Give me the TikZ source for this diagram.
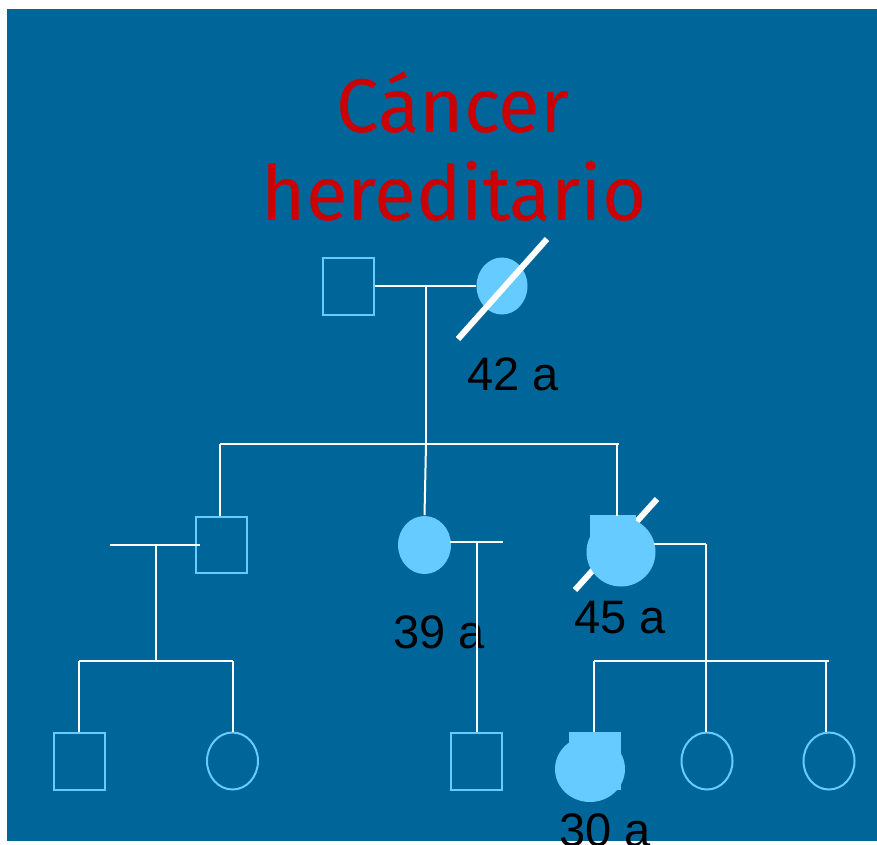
\documentclass[tikz,border=0pt]{standalone}
\usepackage{fontspec}
\setmainfont{Liberation Sans}
\newfontfamily\titlefont{Fira Sans}
\usetikzlibrary{shapes.geometric}
\definecolor{bgblue}{RGB}{0,102,153}
\definecolor{lblue}{RGB}{102,204,255}
\definecolor{titlered}{RGB}{204,0,0}
\begin{document}
\begin{tikzpicture}[x=1pt,y=-1pt,
  male/.style={draw=lblue,line width=2pt,rectangle,minimum width=51pt,minimum height=57pt,inner sep=0pt},
  female/.style={draw=lblue,line width=2pt,ellipse,minimum width=51pt,minimum height=57pt,inner sep=0pt},
  affected/.style={fill=lblue,draw=none},
  link/.style={draw=white,line width=2pt},
  deceased/.style={draw=white,line width=6pt},
  age/.style={font=\fontsize{47}{50}\selectfont,text=black,anchor=base,inner sep=0pt},
  ttl/.style={font=\titlefont\fontsize{76}{88}\selectfont,text=titlered,anchor=base,inner sep=0pt}]
\useasboundingbox (0,0) rectangle (877,844);
\fill[bgblue] (7,9) rectangle (877,841);

% title
\node[ttl] (t1) at (453,132) {Cáncer};
\node[ttl] (t2) at (454,220) {hereditario};

% generation 1
\node[male] (g1m) at (348,286) {};
\node[female,affected] (g1f) at (502,286) {};
\coordinate (j1) at (426,286);
\draw[link] (g1m.east) -- (g1f.west);
\draw[deceased] (458,339) -- (547,239);
\node[age] (a42) at (513,390) {42 a};

% sibship gen 2
\coordinate (s2l) at (220,444);
\coordinate (s2r) at (619,444);
\coordinate (s2m) at (426,444);
\draw[link] (s2l) -- (s2r);
\draw[link] (j1) -- (s2m);

% generation 2
\node[male,minimum height=56pt] (g2a) at (221,545) {};
\node[female,affected,minimum width=53pt,minimum height=58pt] (g2b) at (424.5,545) {};
\draw[deceased] (575,590) -- (657,499);
\fill[lblue] (590,515) rectangle (636,556);
\node[circle,affected,minimum size=69pt,inner sep=0pt] (g2c) at (621,552) {};
\draw[link] (s2l) -- (g2a.north -| s2l);
\draw[link] (s2m) -- (g2b.north);
\draw[link] (617,444) -- (617,516);
\node[age] (a39) at (439,648) {39 a};
\node[age] (a45) at (620,633) {45 a};

% spouse of g2a and children
\coordinate (sp1) at (110,545);
\coordinate (j2) at (156,545);
\coordinate (s3l) at (79,661);
\coordinate (s3r) at (233,661);
\draw[link] (sp1) -- ([xshift=5pt]g2a.west);
\draw[link] (j2) -- (156,661);
\draw[link] (s3l) -- (s3r);

% spouse of g2b
\coordinate (sp2) at (503,542);
\coordinate (j3) at (477,542);
\draw[link] ([xshift=-2pt]g2b.east |- sp2) -- (sp2);

% spouse of g2c
\coordinate (j4) at (706,544);
\draw[link] ([xshift=-2pt]g2c.east |- j4) -- (j4);
\coordinate (s4l) at (594,661);
\coordinate (s4r) at (829,661);
\draw[link] (s4l) -- (s4r);

% generation 3
\node[male] (g3a) at (79.5,761) {};
\node[female] (g3b) at (232.5,761) {};
\node[male] (g3c) at (476.5,761) {};
\fill[lblue] (569,732) rectangle (621,790);
\node[ellipse,affected,minimum width=70pt,minimum height=66pt,inner sep=0pt] (g3d) at (590,769) {};
\node[female] (g3e) at (707,761) {};
\node[female] (g3f) at (829,761) {};
\node[age] (a30) at (605,846) {30 a};

\draw[link] (s3l) -- (g3a.north -| s3l);
\draw[link] (s3r) -- (g3b.north -| s3r);
\draw[link] (j3) -- (g3c.north -| j3);
\draw[link] (s4l) -- (594,732);
\draw[link] (j4) -- (g3e.north -| j4);
\draw[link] (826,661) -- (826,732);
\end{tikzpicture}
\end{document}
